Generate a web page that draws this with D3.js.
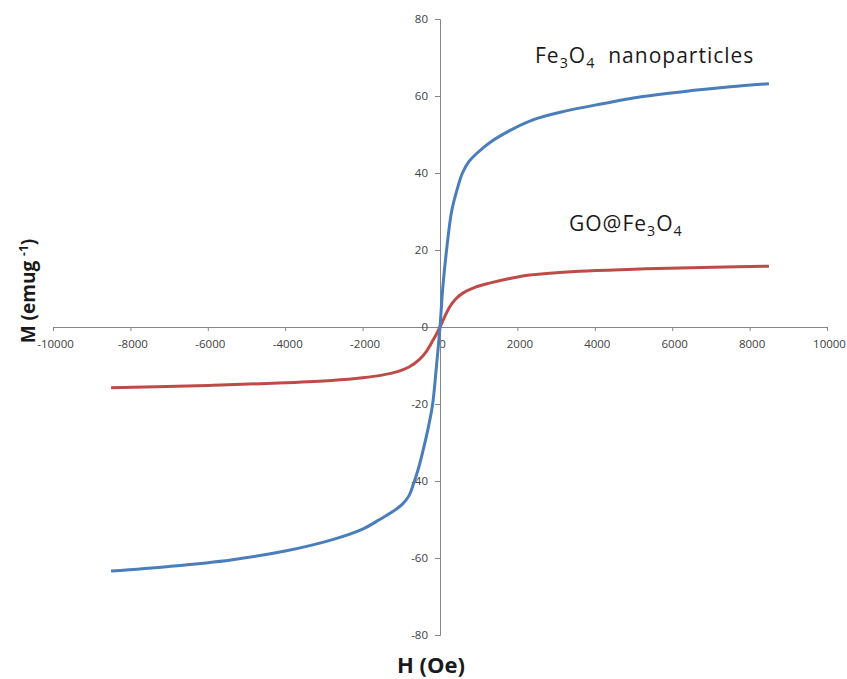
<!DOCTYPE html>
<html>
<head>
  <meta charset="utf-8">
  <title>M-H curves</title>
  <script src="https://d3js.org/d3.v7.min.js"></script>
  <style>
    body { margin: 0; background: #fff; font-family: "Open Sans", sans-serif; }
    .axis path, .axis line { stroke: #868686; }
    .axis text { fill: #404040; font-size: 11.5px; font-family: "Open Sans", sans-serif; }
    .title { font-weight: bold; fill: #1a1a1a; }
    .note { fill: #1a1a1a; letter-spacing: 1px; }
  </style>
</head>
<body>
  <svg width="847" height="679"></svg>
  <script>
    // field (Oe) and magnetisation (emu/g)
    const feH = [-8500, -7000, -5400, -4000, -2800, -2000, -1560, -1200, -970, -800, -700, -550, -400, -300, -190, -90, 0,
                 70, 170, 300, 450, 580, 750, 940, 1300, 1800, 2400, 3200, 4200, 5200, 6500, 7500, 8500];
    const feM = [-63.4, -62.2, -60.5, -58.2, -55.3, -52.5, -50, -47.8, -46, -43.8, -41.2, -36.5, -30.5, -26, -20, -10, 0,
                 10, 20, 30, 36, 40, 43, 45, 48, 51, 53.8, 56, 58, 59.8, 61.4, 62.4, 63.2];

    const goH = [-8500, -6000, -4000, -2800, -2000, -1500, -1100, -800, -530, -350, -190, -90, 0,
                 100, 250, 400, 590, 900, 1280, 1800, 2320, 3600, 5000, 6500, 8500];
    const goM = [-15.8, -15.2, -14.5, -13.9, -13.2, -12.5, -11.6, -10.4, -8.4, -6.3, -3.6, -1.8, 0,
                 2.2, 5.2, 7.2, 8.8, 10.3, 11.4, 12.6, 13.5, 14.5, 15.0, 15.4, 15.8];

    const xTicks = [-10000, -8000, -6000, -4000, -2000, 0, 2000, 4000, 6000, 8000, 10000];
    const yTicks = [-80, -60, -40, -20, 0, 20, 40, 60, 80];

    const svg = d3.select("svg");

    const x = d3.scaleLinear().domain([-10000, 10000]).range([53, 827]);
    const y = d3.scaleLinear().domain([-80, 80]).range([635, 19]);

    const fmt = d => String(d); // plain hyphen, no thousands separator

    // axes cross at the origin
    svg.append("g")
      .attr("class", "axis")
      .attr("transform", `translate(0,${y(0)})`)
      .call(d3.axisBottom(x).tickValues(xTicks).tickFormat(fmt).tickSizeInner(4).tickSizeOuter(4).tickPadding(9))
      .call(g => g.selectAll("text").attr("dx", 2));

    svg.append("g")
      .attr("class", "axis")
      .attr("transform", `translate(${x(0)},0)`)
      .call(d3.axisLeft(y).tickValues(yTicks).tickFormat(fmt).tickSizeInner(5).tickSizeOuter(5).tickPadding(7));

    const line = d3.line()
      .x(d => x(d[0]))
      .y(d => y(d[1]))
      .curve(d3.curveCatmullRom.alpha(0.5));

    svg.append("path")
      .datum(goH.map((h, i) => [h, goM[i]]))
      .attr("fill", "none")
      .attr("stroke", "#be4b48")
      .attr("stroke-width", 3)
      .attr("d", line);

    svg.append("path")
      .datum(feH.map((h, i) => [h, feM[i]]))
      .attr("fill", "none")
      .attr("stroke", "#4a7ebb")
      .attr("stroke-width", 3)
      .attr("d", line);

    // curve labels with subscripts
    function chem(parent, xPos, yPos, parts, size) {
      const t = parent.append("text")
        .attr("class", "note")
        .attr("x", xPos)
        .attr("y", yPos)
        .style("font-size", size + "px");
      parts.forEach(p => {
        const s = t.append("tspan").text(p[0]);
        if (p[1] === "sub") s.attr("dy", 5).style("font-size", (size * 0.68) + "px");
        if (p[1] === "back") s.attr("dy", -5);
      });
      return t;
    }

    chem(svg, 535, 63, [["Fe"], ["3", "sub"], ["O", "back"], ["4", "sub"], ["\u00a0 nanoparticles", "back"]], 21);
    chem(svg, 569, 231, [["GO@Fe"], ["3", "sub"], ["O", "back"], ["4", "sub"]], 21);

    // axis titles
    svg.append("text")
      .attr("class", "title")
      .attr("x", 431)
      .attr("y", 673)
      .attr("text-anchor", "middle")
      .style("font-size", "22px")
      .text("H (Oe)");

    const yt = svg.append("text")
      .attr("class", "title")
      .attr("transform", "translate(35,291) rotate(-90)")
      .attr("text-anchor", "middle")
      .style("font-size", "19px");
    yt.append("tspan").text("M (emug ");
    yt.append("tspan").attr("dy", -7).style("font-size", "12px").text("-1");
    yt.append("tspan").attr("dy", 7).text(")");
  </script>
</body>
</html>
